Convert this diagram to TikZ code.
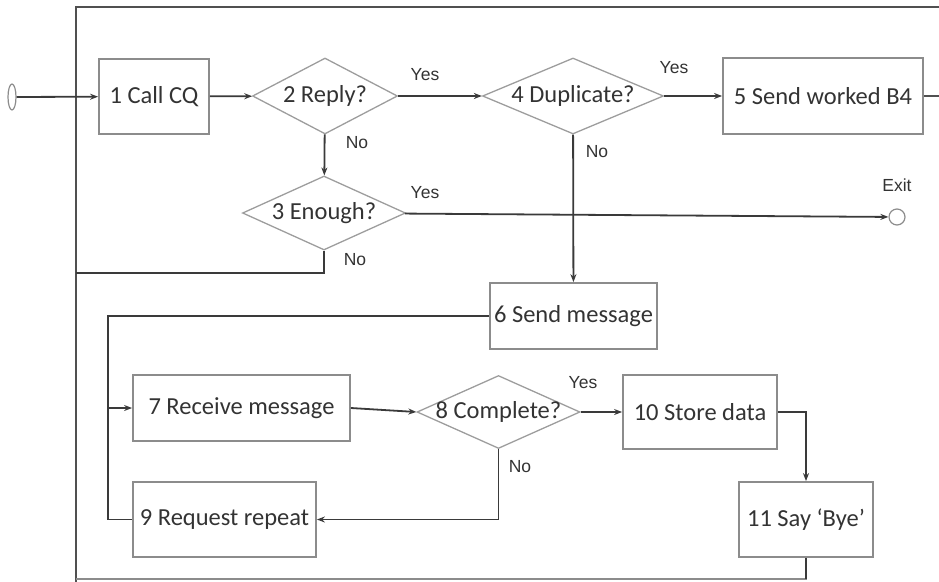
\documentclass[tikz,border=0pt]{standalone}
\usepackage{fontspec}
\setmainfont{Carlito}
\newfontfamily\tagfamily{Liberation Sans}
\usetikzlibrary{arrows.meta,shapes.geometric}
\definecolor{ink}{HTML}{333333}
\definecolor{edge}{HTML}{8C8C8C}
\definecolor{wire}{HTML}{3A3A3A}
\definecolor{rim}{HTML}{505050}
\newcommand{\boxfont}{\fontsize{24.5}{29}\selectfont}
\newcommand{\tagfont}{\tagfamily\fontsize{17.5}{20}\selectfont}
\tikzset{stepbox/.style={draw=edge,line width=1.8pt,inner sep=0,text=ink,font=\boxfont},
  decision/.style={diamond,draw=edge!85,line width=1.3pt,inner sep=0,
    label={[font=\boxfont,text=ink,inner sep=0]center:#1}},
  flow/.style={wire,line width=1.8pt},
  flowarrow/.style={flow,-{Stealth[length=8pt,width=6pt]}},
  rimline/.style={rim,line width=2.6pt},
  tag/.style={inner sep=0,text=ink,font=\tagfont}}

\begin{document}
\begin{tikzpicture}[x=1pt,y=-1pt]
\useasboundingbox (0,0) rectangle (939,581);
% outer return loop
\coordinate (topleft) at (76,7);
\coordinate (botleft) at (76,579);
\coordinate (leftend) at (76,582);
\coordinate (offright) at (952,96);
\coordinate (join3) at (76,273);
\coordinate (loopT) at (108,316);
% terminals
\node[ellipse,draw=edge,line width=1.2pt,minimum width=8pt,minimum height=26pt,inner sep=0] (start) at (12,97) {};
\node[circle,draw=edge,line width=1.2pt,minimum size=16pt,inner sep=0,
  label={[tag,label distance=17pt]above:Exit}] (exit) at (897,217) {};
% top row
\node[stepbox,minimum width=110pt,minimum height=75pt] (b1) at (154,96.5) {1 Call CQ};
\node[decision=2 Reply?,minimum width=145pt,minimum height=76pt] (d2) at (325,96) {};
\node[decision=4 Duplicate?,minimum width=181pt,minimum height=76pt] (d4) at (573,96) {};
\node[stepbox,minimum width=200pt,minimum height=76pt] (b5) at (823,96) {5 Send worked B4};
\node[decision=3 Enough?,minimum width=163pt,minimum height=74pt] (d3) at (324,213) {};
% message exchange
\node[stepbox,minimum width=167pt,minimum height=66pt] (b6) at (573.5,316) {6 Send message};
\node[stepbox,minimum width=217pt,minimum height=66pt] (b7) at (241.5,408) {7 Receive message};
\node[decision=8 Complete?,minimum width=163pt,minimum height=73pt] (d8) at (498.5,412) {};
\node[stepbox,minimum width=154pt,minimum height=74pt] (b10) at (700,412) {10 Store data};
\node[stepbox,minimum width=183pt,minimum height=75pt] (b9) at (224.5,519.5) {9 Request repeat};
\node[stepbox,minimum width=134pt,minimum height=75pt] (b11) at (806,519.5) {11 Say ‘Bye’};
% branch labels
\node[tag] (yes2) at (425,75) {Yes};
\node[tag] (no2) at (357,143) {No};
\node[tag] (yes4) at (674,68) {Yes};
\node[tag] (no4) at (597,152) {No};
\node[tag] (yes3) at (425,193) {Yes};
\node[tag] (no3) at (355,260) {No};
\node[tag] (yes8) at (583,383) {Yes};
\node[tag] (no8) at (520,467) {No};
% frame
\draw[rimline] (b5.east) -- (offright) |- (topleft) -- (leftend);
\draw[rimline,line width=2pt,edge] (b11.south) |- (botleft);
% connectors
\draw[flowarrow] (start) -- (b1);
\draw[flowarrow] (b1) -- (d2);
\draw[flowarrow] (d2) -- (d4);
\draw[flowarrow] (d4) -- (b5);
\draw[flowarrow] (d2) -- (d3);
\draw[flowarrow] (d3) -- (exit);
\draw[flow] (d3.south) |- (join3);
\draw[flowarrow] (d4) -- (b6);
\draw[flow] (b6.west) -- (loopT) |- (b9.west);
\draw[flowarrow] (loopT |- b7.west) -- (b7.west);
\draw[flowarrow] (b7.east) -- (d8.west);
\draw[flowarrow] (d8) -- (b10);
\draw[flowarrow] (d8.south) |- (b9.east);
\draw[flowarrow] (b10.east) -| (b11.north);
\draw[flow] (b11.south) -- (b11.south |- botleft);
\end{tikzpicture}
\end{document}
